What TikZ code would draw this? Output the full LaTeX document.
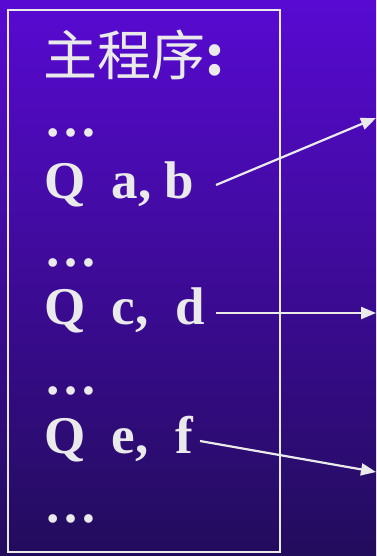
\documentclass[tikz,border=0pt]{standalone}
\usepackage{fontspec}
\setmainfont{Liberation Serif}
\newfontfamily\cjk{Noto Sans CJK SC}
\usetikzlibrary{arrows.meta}
\definecolor{bgtop}{RGB}{88,10,210}
\definecolor{bgbot}{RGB}{34,12,92}
\definecolor{ink}{RGB}{234,234,234}
\tikzset{
  codeline/.style={anchor=base west, inner sep=0pt, text=ink, font=\fontsize{53}{53}\selectfont\bfseries},
  callarrow/.style={draw=ink, line width=2.2pt, -{Triangle[length=15pt,width=12pt]}}
}
\begin{document}
\begin{tikzpicture}[x=1pt,y=-1pt]
\shade[top color=bgtop, bottom color=bgbot] (0,0) rectangle (376,556);
\useasboundingbox (0,0) rectangle (376,556);
\draw[draw=ink, line width=2pt] (8,10) rectangle (280,552);
\node[anchor=base west, inner sep=0pt, text=ink, font=\fontsize{54}{54}\selectfont] (title) at (43,76) {\cjk 主程序\textbf{:}};
\node[codeline] (d1) at (44,137) {…};
\node[codeline] (q1) at (44,198) {Q\ \ a, b};
\node[codeline] (d2) at (44,266) {…};
\node[codeline] (q2) at (44,324) {Q\ \ c,\ \ d};
\node[codeline] (d3) at (44,394) {…};
\node[codeline] (q3) at (44,453) {Q\ \ e,\ \ f};
\node[codeline] (d4) at (44,522) {…};
\coordinate (s1) at (216,185);
\coordinate (e1) at (376,118);
\coordinate (s2) at (216,313);
\coordinate (e2) at (376,313);
\coordinate (s3) at (200,441);
\coordinate (e3) at (376,472);
\draw[callarrow] (s1) -- (e1);
\draw[callarrow] (s2) -- (e2);
\draw[callarrow] (s3) -- (e3);
\end{tikzpicture}
\end{document}
